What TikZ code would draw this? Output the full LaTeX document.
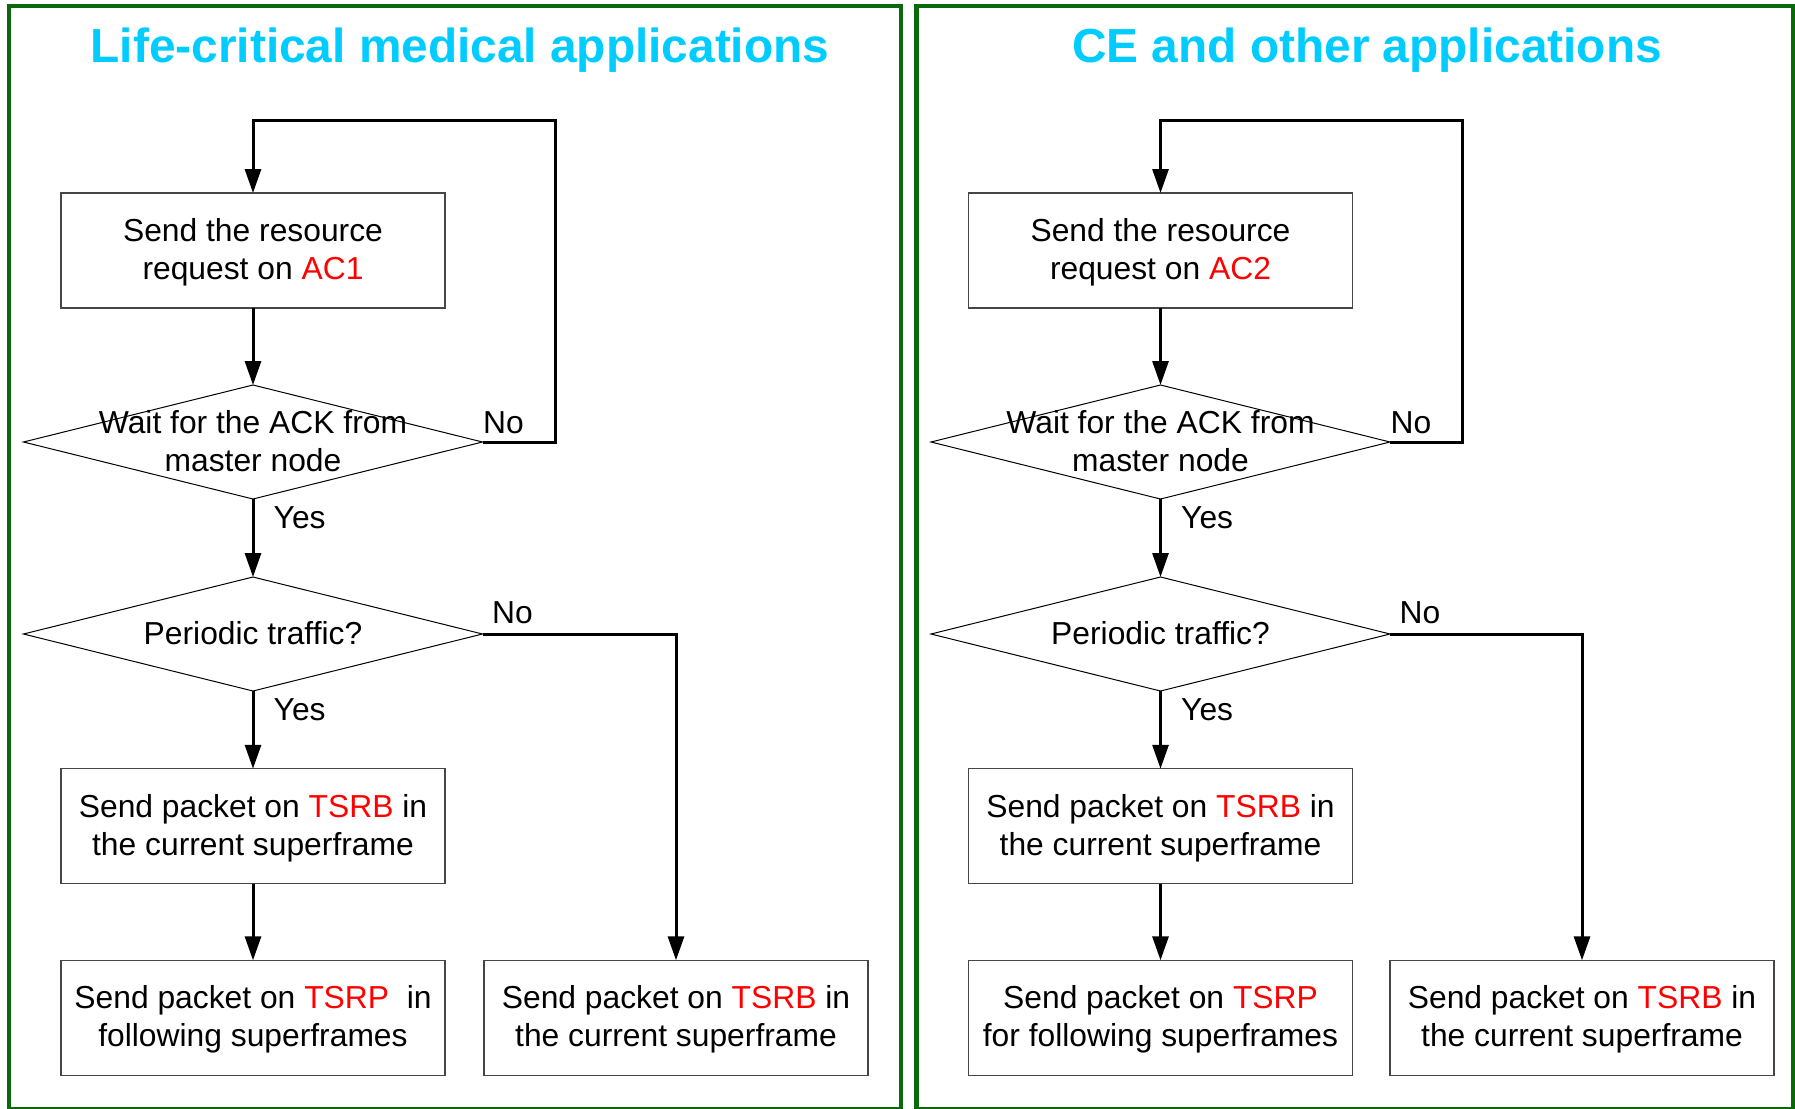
\documentclass[tikz,border=0pt]{standalone}
\usepackage{fontspec}
\setmainfont{Liberation Sans}
\usetikzlibrary{arrows.meta,shapes.geometric}
\definecolor{panelgreen}{RGB}{10,105,10}
\definecolor{titlecyan}{RGB}{0,204,255}
\definecolor{boxgray}{RGB}{70,70,70}
\newcommand\txtfont{\fontsize{31.8bp}{38bp}\selectfont}
\tikzset{
  panel/.style={draw=panelgreen, line width=4.3bp},
  ttl/.style={text=titlecyan, font=\fontsize{47.8bp}{56bp}\selectfont\bfseries, anchor=base, inner sep=0},
  procbox/.style={draw=boxgray, line width=1.3bp, minimum width=384bp, minimum height=115bp, inner sep=0, outer sep=0, align=center, font=\txtfont, text height=64bp, text depth=6bp},
  decbox/.style={diamond, draw=black, line width=1bp, minimum width=459bp, minimum height=114bp, inner sep=0, outer sep=0},
  dectext/.style={align=center, font=\txtfont, inner sep=0, text height=64bp, text depth=6bp},
  dectextone/.style={align=center, font=\txtfont, inner sep=0, text height=24bp, text depth=4bp},
  conn/.style={line width=3bp, -{Triangle[length=24bp,width=16bp]}},
  lbl/.style={font=\txtfont, anchor=base west, inner sep=0},
}
% #1 prefix, #2 column x, #3 title x, #4 title, #5 AC label, #6 box4 text, #7 loop x, #8 branch x
\newcommand\flowpanel[8]{%
  \node[ttl] (#1title) at (#3,62) {#4};
  \node[procbox] (#1b1) at (#2,250.5) {Send the resource\\request on \textcolor{red}{#5}};
  \node[decbox] (#1d1) at (#2,442) {};
  \node[dectext] (#1t1) at (#1d1) {Wait for the ACK from\\master node};
  \node[decbox] (#1d2) at (#2,634) {};
  \node[dectextone] (#1t2) at (#1d2) {Periodic traffic?};
  \node[procbox] (#1b3) at (#2,826.25) {Send packet on \textcolor{red}{TSRB} in\\the current superframe};
  \node[procbox] (#1b4) at (#2,1017.8) {#6};
  \node[procbox] (#1b5) at (#8,1017.8) {Send packet on \textcolor{red}{TSRB} in\\the current superframe};
  \coordinate (#1top) at (#7,120.7);
  \draw[conn] (#1b1.south) -- (#1d1.north);
  \draw[conn] (#1d1.east) -| (#1top) -| (#1b1.north);
  \draw[conn] (#1d1.south) -- (#1d2.north);
  \draw[conn] (#1d2.south) -- (#1b3.north);
  \draw[conn] (#1b3.south) -- (#1b4.north);
  \draw[conn] (#1d2.east) -| (#1b5.north);
  \node[lbl] (#1no1) at (#2+230,433) {No};
  \node[lbl] (#1yes1) at (#2+20.5,528) {Yes};
  \node[lbl] (#1no2) at (#2+239,623) {No};
  \node[lbl] (#1yes2) at (#2+20.5,720) {Yes};
}
\begin{document}
\begin{tikzpicture}[x=1bp,y=-1bp]
  \useasboundingbox (0,0) rectangle (1795,1108);
  \draw[panel] (9,5.7) rectangle (901,1109);
  \draw[panel] (916.5,5.7) rectangle (1793,1109);
  \flowpanel{L}{253}{460}{Life-critical medical applications}{AC1}{Send packet on \textcolor{red}{TSRP}\ \ in\\following superframes}{555}{676}
  \flowpanel{R}{1160.5}{1367}{CE and other applications}{AC2}{Send packet on \textcolor{red}{TSRP}\\for following superframes}{1462}{1582}
\end{tikzpicture}
\end{document}
